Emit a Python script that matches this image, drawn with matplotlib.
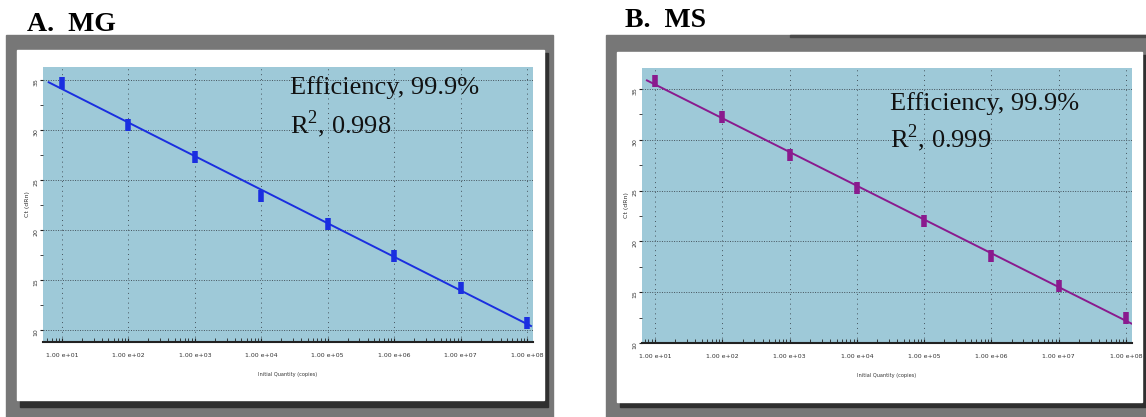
import numpy as np
import matplotlib
matplotlib.use("Agg")
import matplotlib.pyplot as plt
from matplotlib.patches import Rectangle
from matplotlib.ticker import FixedLocator, LogLocator, NullFormatter

plt.rcParams['mathtext.fontset'] = 'custom'
plt.rcParams['mathtext.rm'] = 'Liberation Serif'

# standard curve data
quantity = [1e1, 1e2, 1e3, 1e4, 1e5, 1e6, 1e7, 1e8]
tick_labels = ['1.00 e+01', '1.00 e+02', '1.00 e+03', '1.00 e+04',
               '1.00 e+05', '1.00 e+06', '1.00 e+07', '1.00 e+08']
ct_mg = [34.7, 30.5, 27.3, 23.4, 20.6, 17.4, 14.2, 10.7]
ct_ms = [35.8, 32.2, 28.5, 25.3, 22.0, 18.6, 15.6, 12.5]
y_ticks = [10, 15, 20, 25, 30, 35]
fit_range_mg = [10 ** 0.8, 10 ** 8.06]
fit_range_ms = [10 ** 0.88, 10 ** 8.08]
titles = ['A.  MG', 'B.  MS']
efficiency = ['Efficiency, 99.9%', 'Efficiency, 99.9%']
r2 = ['R$^{2}$, 0.998', 'R$^{2}$, 0.999']

W, H = 1146, 417
fig = plt.figure(figsize=(W / 100, H / 100), dpi=100)
fig.patch.set_facecolor('white')


def rect(x0, y0, x1, y1, color):
    # pixel box (top-left origin) -> figure fraction
    fig.patches.append(Rectangle((x0 / W, 1 - y1 / H), (x1 - x0) / W, (y1 - y0) / H,
                                 transform=fig.transFigure, color=color, zorder=-10))


def add_axes(x0, y0, x1, y1):
    return fig.add_axes([x0 / W, 1 - y1 / H, (x1 - x0) / W, (y1 - y0) / H])


# panel frames
rect(6, 35, 553, 417, '#777777')
rect(20, 53, 548, 407, '#303030')
rect(17, 50, 544, 400, 'white')
rect(606, 35, 1146, 417, '#777777')
rect(790, 35, 1146, 37, '#4a4a4a')
rect(620, 55, 1146, 407, '#303030')
rect(617, 52, 1142, 402, 'white')

ax_a = add_axes(43, 67, 533, 342)
ax_b = add_axes(642, 68, 1132, 343)

panels = [
    (ax_a, ct_mg, fit_range_mg, '#1a2ee0', (10 ** 0.714, 10 ** 8.09), (8.8, 36.3)),
    (ax_b, ct_ms, fit_range_ms, '#8a1a8e', (10 ** 0.807, 10 ** 8.09), (10, 37.06)),
]

for ax, ct, fr, col, xl, yl in panels:
    ax.set_facecolor('#9ec9d8')
    slope, icpt = np.polyfit(np.log10(quantity), ct, 1)
    fx = np.array(fr)
    ax.plot(fx, slope * np.log10(fx) + icpt, color=col, lw=1.4, zorder=3)
    ax.plot(quantity, ct, ls='none', marker='|', ms=8, mew=4, color=col, zorder=4)
    ax.set_xscale('log')
    ax.set_xlim(*xl)
    ax.set_ylim(*yl)
    ax.xaxis.set_major_locator(FixedLocator(quantity))
    ax.set_xticklabels(tick_labels)
    ax.xaxis.set_minor_locator(LogLocator(base=10, subs=np.arange(2, 10)))
    ax.xaxis.set_minor_formatter(NullFormatter())
    ax.set_yticks(y_ticks)
    ax.set_yticks([12.5, 17.5, 22.5, 27.5, 32.5], minor=True)
    ax.tick_params(axis='x', which='both', direction='in', length=3, color='#222222',
                   labelsize=4.5, labelcolor='#333333', pad=8)
    ax.tick_params(axis='y', which='both', direction='out', length=2.5, color='#222222',
                   labelsize=4.5, labelcolor='#333333', labelrotation=90, pad=1)
    ax.grid(True, axis='y', which='major', color='#45535c', ls=(0, (1, 1.5)), lw=0.7)
    ax.grid(True, axis='x', which='major', color='#45535c', ls=(0, (1, 4)), lw=0.7)
    for s in ['top', 'right', 'left']:
        ax.spines[s].set_visible(False)
    ax.spines['bottom'].set_color('#222222')
    ax.spines['bottom'].set_linewidth(1.5)
    ax.set_xlabel('Initial Quantity (copies)', fontsize=3.6, color='#333333', labelpad=10)
    ax.set_ylabel('Ct (dRn)', fontsize=4.5, color='#333333', labelpad=2)

# titles and annotations
fig.text(27 / W, 1 - 31 / H, titles[0], fontsize=20, fontweight='bold',
         family='Liberation Serif', va='baseline')
fig.text(625 / W, 1 - 27 / H, titles[1], fontsize=20, fontweight='bold',
         family='Liberation Serif', va='baseline')

fig.text(290 / W, 1 - 94 / H, efficiency[0], fontsize=19, family='Liberation Serif',
         va='baseline', color='#111111')
fig.text(290 / W, 1 - 133 / H, r2[0], fontsize=19, family='Liberation Serif',
         va='baseline', color='#111111')
fig.text(890 / W, 1 - 110 / H, efficiency[1], fontsize=19, family='Liberation Serif',
         va='baseline', color='#111111')
fig.text(890 / W, 1 - 147 / H, r2[1], fontsize=19, family='Liberation Serif',
         va='baseline', color='#111111')

fig.savefig('out.png', dpi=100)
